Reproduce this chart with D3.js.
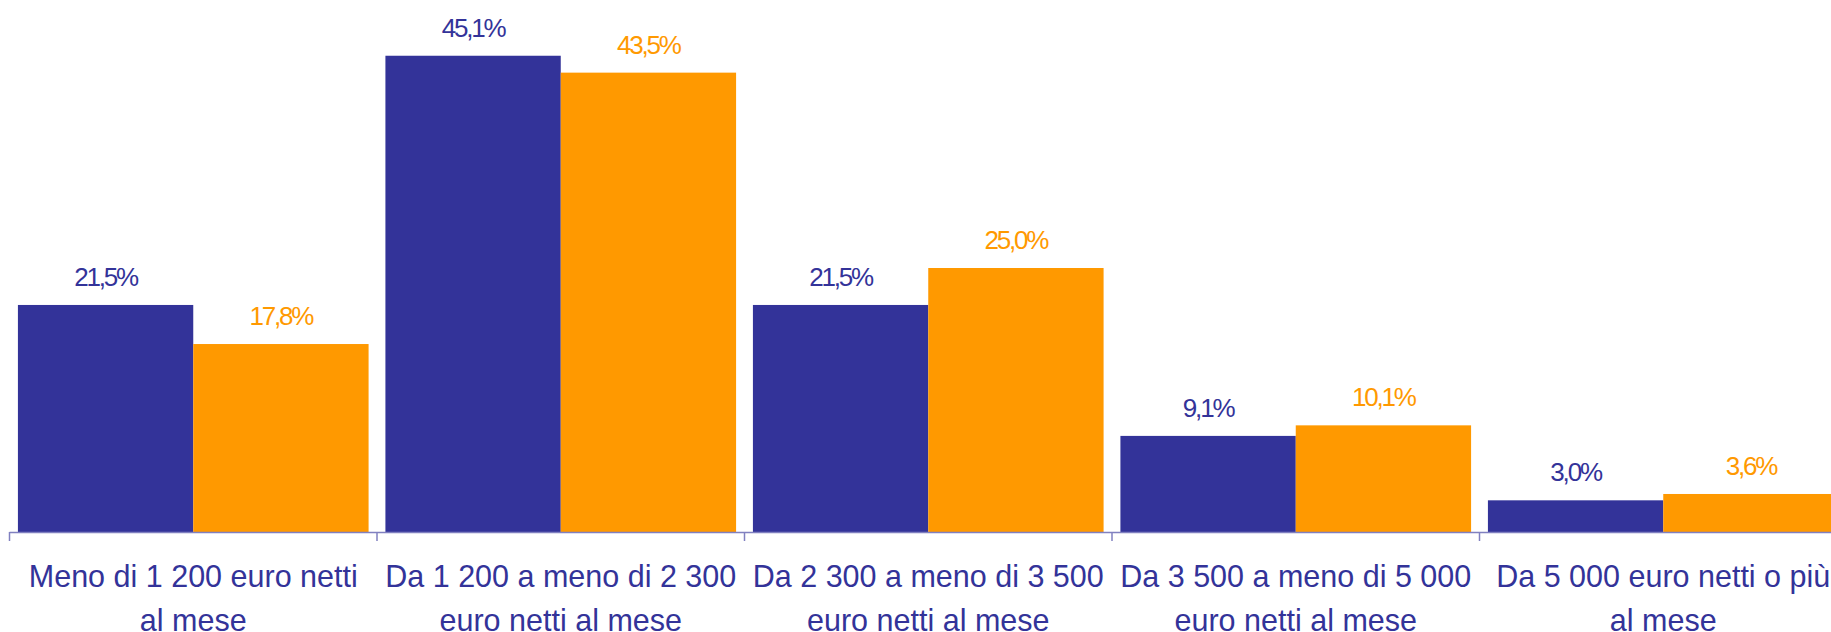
<!DOCTYPE html>
<html>
<head>
<meta charset="utf-8">
<script src="https://cdn.jsdelivr.net/npm/d3@7"></script>
<style>
  html, body { margin: 0; padding: 0; background: #ffffff; overflow: hidden; }
  svg { display: block; }
</style>
</head>
<body>
<svg id="chart" width="1831" height="632"></svg>
<script>
const categories = [
  ["Meno di 1 200 euro netti", "al mese"],
  ["Da 1 200 a meno di 2 300", "euro netti al mese"],
  ["Da 2 300 a meno di 3 500", "euro netti al mese"],
  ["Da 3 500 a meno di 5 000", "euro netti al mese"],
  ["Da 5 000 euro netti o più", "al mese"]
];
const seriesNames = ["A", "B"];
const seriesA = [21.5, 45.1, 21.5, 9.1, 3.0];
const seriesB = [17.8, 43.5, 25.0, 10.1, 3.6];
const labelsA = ["21,5%", "45,1%", "21,5%", "9,1%", "3,0%"];
const labelsB = ["17,8%", "43,5%", "25,0%", "10,1%", "3,6%"];
const colors = ["#333399", "#FF9900"];

const svg = d3.select("#chart");
const x0 = 9.5, step = 367.5, axisY = 532;

const x = d3.scaleBand()
  .domain(d3.range(categories.length))
  .range([x0, x0 + step * categories.length])
  .paddingInner(0).paddingOuter(0);

const x1 = d3.scaleBand()
  .domain(seriesNames)
  .range([0, x.bandwidth()])
  .paddingInner(0).paddingOuter(0.048);

const y = d3.scaleLinear().domain([0, 50]).range([axisY, 4]);

const data = categories.map((c, i) => ({
  i,
  vals: [
    { s: "A", v: seriesA[i], label: labelsA[i], color: colors[0] },
    { s: "B", v: seriesB[i], label: labelsB[i], color: colors[1] }
  ]
}));

const groups = svg.selectAll("g.cat").data(data).join("g")
  .attr("class", "cat")
  .attr("transform", d => `translate(${x(d.i)},0)`);

groups.selectAll("rect").data(d => d.vals).join("rect")
  .attr("x", d => x1(d.s))
  .attr("y", d => y(d.v))
  .attr("width", x1.bandwidth())
  .attr("height", d => y(0) - y(d.v))
  .attr("fill", d => d.color);

groups.selectAll("text.val").data(d => d.vals).join("text")
  .attr("class", "val")
  .attr("x", d => x1(d.s) + x1.bandwidth() / 2)
  .attr("y", d => y(d.v) - 19)
  .attr("text-anchor", "middle")
  .attr("font-family", "Liberation Sans, Arial, sans-serif")
  .attr("font-size", 26)
  .attr("letter-spacing", "-2.2px")
  .attr("fill", d => d.color)
  .text(d => d.label);

// axis
const axisColor = "#8080c0";
svg.append("line")
  .attr("x1", x.range()[0]).attr("x2", x.range()[1])
  .attr("y1", axisY + 0.5).attr("y2", axisY + 0.5)
  .attr("stroke", axisColor).attr("stroke-width", 1.5);

svg.selectAll("line.tick").data(d3.range(categories.length + 1)).join("line")
  .attr("class", "tick")
  .attr("x1", d => x0 + d * x.step()).attr("x2", d => x0 + d * x.step())
  .attr("y1", axisY).attr("y2", axisY + 9)
  .attr("stroke", axisColor).attr("stroke-width", 1.5);

// category labels
const lab = svg.selectAll("text.cat").data(categories).join("text")
  .attr("class", "cat")
  .attr("text-anchor", "middle")
  .attr("font-family", "Liberation Sans, Arial, sans-serif")
  .attr("font-size", 30.5)
  .attr("fill", "#333399");
lab.selectAll("tspan").data((d, i) => d.map((t, j) => ({ t, j, i }))).join("tspan")
  .attr("x", d => x(d.i) + x.bandwidth() / 2)
  .attr("y", d => 586.5 + d.j * 44)
  .text(d => d.t);
</script>
</body>
</html>
